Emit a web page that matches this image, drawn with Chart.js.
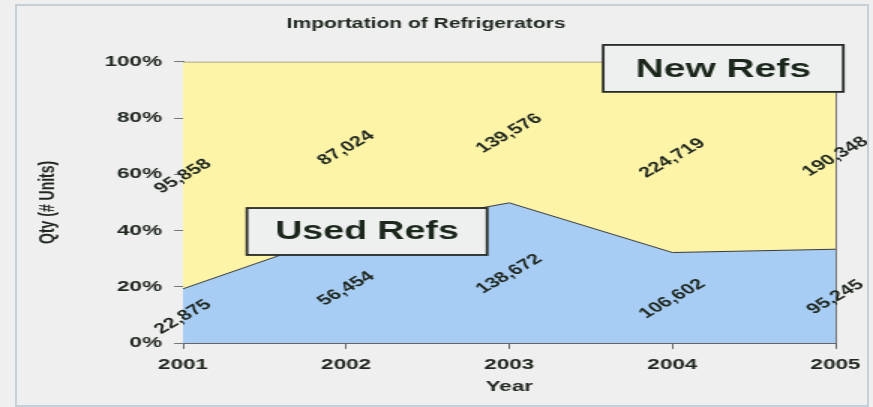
<!DOCTYPE html>
<html>
<head>
<meta charset="utf-8">
<title>Importation of Refrigerators</title>
<script src="https://cdn.jsdelivr.net/npm/chart.js@4/dist/chart.umd.min.js"></script>
<style>
    html, body { margin: 0; padding: 0; }
    body { background: #efefef; width: 873px; height: 407px; position: relative; overflow: hidden; }
    #frame {
        position: absolute; left: 15px; top: 4px; width: 850px; height: 399px;
        border: 2px solid #c8d0d7; pointer-events: none;
    }
    /* the original picture is stretched sideways, so draw narrow and widen it */
    #chart { position: absolute; left: 0; top: 0; width: 873px; height: 407px; }
</style>
</head>
<body>
<canvas id="chart" width="582" height="407" style="width:873px;height:407px"></canvas>
<div id="frame"></div>
<script>
// data
const years = ['2001', '2002', '2003', '2004', '2005'];
const usedRefs = [22875, 56454, 138672, 106602, 95245];
const newRefs = [95858, 87024, 139576, 224719, 190348];
const percentTicks = [0, 20, 40, 60, 80, 100];

const usedColor = '#a7cdf5';
const newColor = '#fdf4a7';
const textColor = '#1f271f';

// 100% stacked: share of each year's total
const totals = usedRefs.map((u, i) => u + newRefs[i]);
const usedPct = usedRefs.map((u, i) => u / totals[i] * 100);
const newPct = newRefs.map((n, i) => n / totals[i] * 100);

// boxed series names, placed as fractions of the plot area
const nameBoxes = [
    { text: 'New Refs', left: 0.644, top: -0.06, width: 0.368, height: 0.167, size: 26 },
    { text: 'Used Refs', left: 0.098, top: 0.52, width: 0.368, height: 0.167, size: 25 }
];

// rotated unit counts in the middle of each band
const valueLabels = {
    id: 'valueLabels',
    afterDatasetsDraw(chart) {
        const ctx = chart.ctx;
        const x = chart.scales.x;
        const y = chart.scales.y;
        ctx.save();
        ctx.font = 'bold 14.5px "Liberation Sans", Arial, sans-serif';
        ctx.fillStyle = textColor;
        ctx.textAlign = 'center';
        ctx.textBaseline = 'middle';
        years.forEach((yr, i) => {
            const px = x.getPixelForValue(i);
            const spots = [
                [usedRefs[i], y.getPixelForValue(usedPct[i] / 2)],
                [newRefs[i], y.getPixelForValue(usedPct[i] + newPct[i] / 2)]
            ];
            spots.forEach(s => {
                ctx.save();
                ctx.translate(px, s[1] + 1);
                ctx.rotate(-40 * Math.PI / 180);
                ctx.fillText(s[0].toLocaleString('en-US'), 0, 0);
                ctx.restore();
            });
        });
        ctx.restore();
    }
};

const nameBoxPlugin = {
    id: 'nameBoxes',
    afterDraw(chart) {
        const ctx = chart.ctx;
        const a = chart.chartArea;
        const w = a.right - a.left;
        const h = a.bottom - a.top;
        ctx.save();
        nameBoxes.forEach(b => {
            const bx = a.left + b.left * w;
            const by = a.top + b.top * h;
            const bw = b.width * w;
            const bh = b.height * h;
            ctx.fillStyle = '#eef0f0';
            ctx.fillRect(bx, by, bw, bh);
            ctx.strokeStyle = '#262a26';
            ctx.lineWidth = 1.8;
            ctx.strokeRect(bx, by, bw, bh);
            ctx.font = 'bold ' + b.size + 'px "Liberation Sans", Arial, sans-serif';
            ctx.fillStyle = '#1c271c';
            ctx.textAlign = 'center';
            ctx.textBaseline = 'middle';
            ctx.fillText(b.text, bx + bw / 2, by + bh / 2 + 1);
        });
        ctx.restore();
    }
};

const ctx = document.getElementById('chart').getContext('2d');

new Chart(ctx, {
    type: 'line',
    data: {
        labels: years,
        datasets: [{
            label: 'Used Refs',
            data: usedPct,
            fill: 'origin',
            backgroundColor: usedColor,
            borderColor: '#3c3c3c',
            borderWidth: 1,
            pointRadius: 0,
            tension: 0
        }, {
            label: 'New Refs',
            data: newPct,
            fill: '-1',
            backgroundColor: newColor,
            borderColor: '#555555',
            borderWidth: 1,
            pointRadius: 0,
            tension: 0
        }]
    },
    options: {
        responsive: false,
        animation: false,
        layout: {
            padding: { top: 16, left: 11, right: 25, bottom: 6 }
        },
        plugins: {
            legend: { display: false },
            tooltip: { enabled: false },
            title: {
                display: true,
                text: 'Importation of Refrigerators',
                color: textColor,
                font: { family: '"Liberation Sans", Arial, sans-serif', size: 14, weight: 'bold' },
                padding: { top: 0, bottom: 29 }
            }
        },
        scales: {
            x: {
                offset: false,
                afterFit: s => { s.height = 58; },
                border: { color: '#666666' },
                grid: {
                    drawOnChartArea: true,
                    color: c => c.index === years.length - 1 ? '#777777' : 'transparent',
                    tickColor: '#666666',
                    tickLength: 6
                },
                ticks: {
                    color: textColor,
                    font: { family: '"Liberation Sans", Arial, sans-serif', size: 15, weight: 'bold' },
                    padding: 7,
                    maxRotation: 0,
                    autoSkip: false
                },
                title: {
                    display: true,
                    text: 'Year',
                    color: textColor,
                    font: { family: '"Liberation Sans", Arial, sans-serif', size: 15, weight: 'bold' },
                    padding: { top: 0, bottom: 5 }
                }
            },
            y: {
                stacked: true,
                min: 0,
                max: 100,
                afterFit: s => { s.width = 111; },
                afterBuildTicks: s => { s.ticks = percentTicks.map(v => ({ value: v })); },
                border: { color: '#777777' },
                grid: {
                    drawOnChartArea: false,
                    tickColor: '#777777',
                    tickLength: 6
                },
                ticks: {
                    color: textColor,
                    font: { family: '"Liberation Sans", Arial, sans-serif', size: 15, weight: 'bold' },
                    padding: 8,
                    callback: v => v + '%'
                },
                title: {
                    display: true,
                    text: 'Qty (# Units)',
                    color: textColor,
                    font: { family: '"Liberation Sans", Arial, sans-serif', size: 14, weight: 'bold' },
                    padding: { top: 13, bottom: 0 }
                }
            }
        }
    },
    plugins: [valueLabels, nameBoxPlugin]
});
</script>
</body>
</html>
